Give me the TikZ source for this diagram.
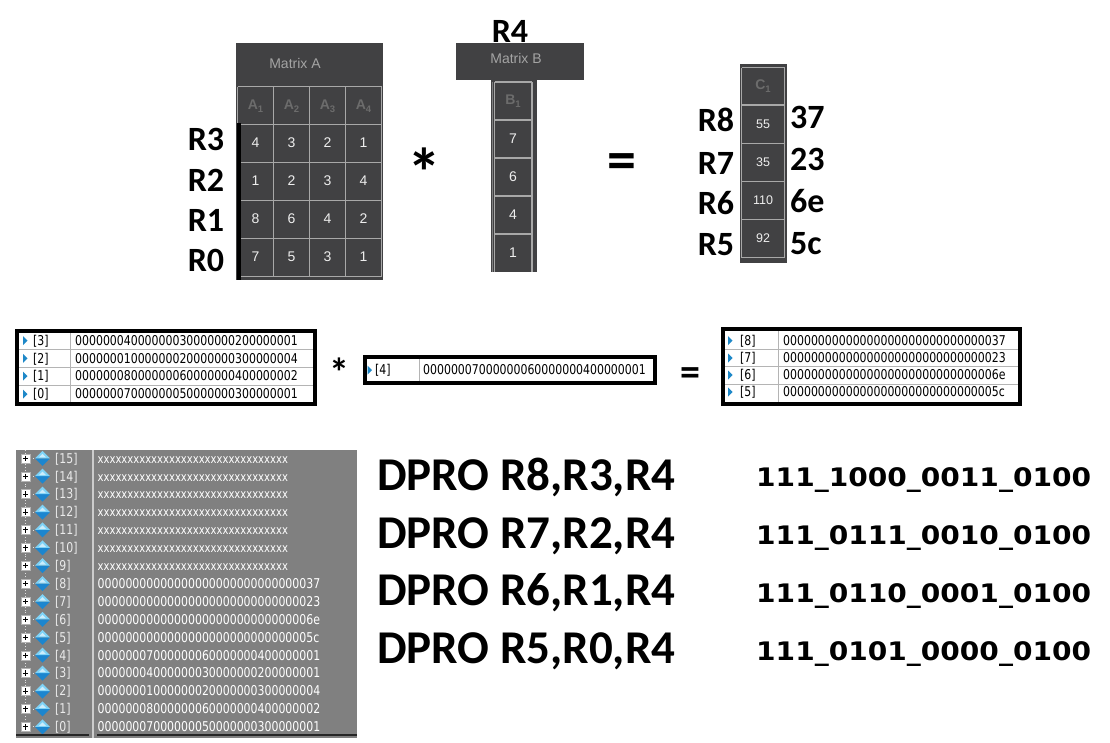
\documentclass[tikz,border=0pt]{standalone}
\usepackage{fontspec}
\setmainfont{Carlito}
\newfontfamily\arialf{Liberation Sans}
\newfontfamily\tahf[FakeStretch=0.81]{DejaVu Sans}
\newfontfamily\verdf[FakeStretch=1.1]{DejaVu Sans}
\definecolor{matbg}{HTML}{414143}
\definecolor{gridc}{HTML}{A8A8A8}
\definecolor{celltxt}{HTML}{EEEEEE}
\definecolor{headtxt}{HTML}{6C6C6C}
\definecolor{titletxt}{HTML}{A4A4A4}
\definecolor{panelbg}{HTML}{808080}
\definecolor{tricol}{HTML}{1E88C8}
\definecolor{rowline}{HTML}{B4B4B4}
\definecolor{dialight}{HTML}{7FD3F7}
\definecolor{diadark}{HTML}{1C86CF}
\begin{document}
\begin{tikzpicture}[x=1pt,y=-1pt,
  biglab/.style={font=\bfseries\fontsize{34}{34}\selectfont, inner sep=0pt, anchor=center},
  mcell/.style={font=\arialf\fontsize{14}{14}\selectfont, text=celltxt, inner sep=0pt},
  ccell/.style={font=\arialf\fontsize{12.5}{12.5}\selectfont, text=celltxt, inner sep=0pt},
  mhead/.style={font=\arialf\bfseries\fontsize{14}{14}\selectfont, text=headtxt, inner sep=0pt},
  mtitle/.style={font=\arialf\fontsize{14}{14}\selectfont, text=titletxt, inner sep=0pt},
  gridl/.style={draw=gridc, line width=1.2pt},
  hex/.style={font=\tahf\fontsize{13.5}{13.5}\selectfont, inner sep=0pt, anchor=base west},
  phex/.style={hex, text=white},
  pxx/.style={phex, font=\tahf\fontsize{12.4}{12.4}\selectfont},
  plab/.style={hex, text=white!92!black},
  instr/.style={font=\bfseries\fontsize{47}{47}\selectfont, inner sep=0pt, anchor=base west},
  bincode/.style={font=\verdf\bfseries\fontsize{25.5}{25.5}\selectfont, inner sep=0pt, anchor=base west},
  opsym/.style={font=\bfseries, inner sep=0pt},
  frameb/.style={draw=black, line width=4pt},
  rowsep/.style={draw=rowline, line width=0.8pt}
]
\useasboundingbox (0,0) rectangle (1110,742);

% ---------------- Matrix A ----------------
\fill[matbg] (236,43) rectangle (383,280);
\node[mtitle] (titleA) at (295,63) {Matrix A};
\foreach \x in {237.5,273.5,309.5,345.5,381.5} \draw[gridl] (\x,86.5) -- (\x,276.5);
\foreach \y in {86.5,124.3,162.3,200.3,238.3,276.3} \draw[gridl] (237.5,\y) -- (381.5,\y);
\foreach \c [count=\i] in {255.5,291.5,327.5,363.5}
  \node[mhead] (ah\i) at (\c,106) {A\raisebox{-3pt}{\fontsize{9.5}{9.5}\selectfont\i}};
\foreach \row/\yy in {{4,3,2,1}/143,{1,2,3,4}/181,{8,6,4,2}/219,{7,5,3,1}/257}{
  \foreach \v [count=\j] in \row {
    \pgfmathsetmacro{\xx}{219.5+36*\j}
    \node[mcell] (a\j-\yy) at (\xx,\yy) {\v};
  }
}
\draw[line width=4pt] (238.5,123) -- (238.5,280);
\node[biglab] (r3) at (206,139) {R3};
\node[biglab] (r2) at (206,180) {R2};
\node[biglab] (r1) at (206,220) {R1};
\node[biglab] (r0) at (206,260) {R0};

\node[opsym, font=\bfseries\fontsize{68}{68}\selectfont] (mul1) at (424.5,172) {*};

% ---------------- Matrix B ----------------
\fill[matbg] (456,43) rectangle (584,80);
\fill[matbg] (491,80) rectangle (537,272);
\node[mtitle] (titleB) at (516,58) {Matrix B};
\node[biglab] (r4) at (510,31) {R4};
\draw[draw=gridc!60!matbg, line width=0.8pt] (492,82) -- (492,272);
\foreach \x in {494.5,532} \draw[gridl] (\x,82) -- (\x,272);
\foreach \y in {82,120,158,196,234} \draw[gridl] (494.5,\y) -- (532,\y);
\node[mhead] (bh) at (513,101) {B\raisebox{-3pt}{\fontsize{9.5}{9.5}\selectfont 1}};
\foreach \v/\yy in {7/139,6/177,4/215,1/253}
  \node[mcell] (b\v) at (513,\yy) {\v};

\node[opsym, font=\bfseries\fontsize{58}{58}\selectfont] (eq1) at (621.5,167) {=};

% ---------------- Matrix C ----------------
\fill[matbg] (740,64) rectangle (787,263);
\foreach \x in {741.5,784.5} \draw[gridl] (\x,67.5) -- (\x,257.5);
\foreach \y in {67.5,105,143.3,181.7,219.7,257.5} \draw[gridl] (741.5,\y) -- (784.5,\y);
\node[mhead] (ch) at (763,86) {C\raisebox{-3pt}{\fontsize{9.5}{9.5}\selectfont 1}};
\foreach \v/\yy in {55/124,35/162,110/200,92/238}
  \node[ccell] (c\v) at (763,\yy) {\v};
\node[biglab] (r8) at (716,120) {R8};
\node[biglab] (r7) at (716,163) {R7};
\node[biglab] (r6) at (716,203) {R6};
\node[biglab] (r5) at (716,245) {R5};
\node[biglab, anchor=west] (h37) at (790,117) {37};
\node[biglab, anchor=west] (h23) at (790,159) {23};
\node[biglab, anchor=west] (h6e) at (790,201) {6e};
\node[biglab, anchor=west] (h5c) at (790,244) {5c};

% ---------------- middle register tables ----------------
% box 1
\fill[white] (17,331) rectangle (315,404);
\foreach \y in {349.3,367.3,385.3} \draw[rowsep] (17,\y) -- (315,\y);
\draw[rowsep] (70,331) -- (70,404);
\foreach \lab/\val/\yy in {3/00000004000000030000000200000001/340.7,2/00000001000000020000000300000004/358.3,1/00000008000000060000000400000002/376,0/00000007000000050000000300000001/394}{
  \fill[tricol] (23,\yy-4.5) -- (27.5,\yy) -- (23,\yy+4.5) -- cycle;
  \node[hex] (m1l\lab) at (33,\yy+4.8) {[\lab]};
  \node[hex] (m1v\lab) at (75,\yy+4.8) {\val};
}
\draw[frameb] (17,331) rectangle (315,404);

\node[opsym, font=\bfseries\fontsize{40}{40}\selectfont] (mul2) at (339,372) {*};

% box 2
\fill[white] (365,357) rectangle (655,383);
\draw[rowsep] (419,358) -- (419,382);
\fill[tricol] (367.5,365.5) -- (372,370) -- (367.5,374.5) -- cycle;
\node[hex] (m2l) at (375,374.8) {[4]};
\node[hex] (m2v) at (423,374.8) {00000007000000060000000400000001};
\draw[frameb] (365,357) rectangle (655,383);

\node[opsym, font=\bfseries\fontsize{40}{40}\selectfont] (eq2) at (690,377) {=};

% box 3
\fill[white] (723,329) rectangle (1020,404);
\foreach \y in {349.3,366.7,384} \draw[rowsep] (723,\y) -- (1020,\y);
\draw[rowsep] (778.3,329) -- (778.3,404);
\foreach \lab/\val/\yy in {8/00000000000000000000000000000037/340.7,7/00000000000000000000000000000023/358,6/0000000000000000000000000000006e/375,5/0000000000000000000000000000005c/392}{
  \fill[tricol] (728,\yy-4.5) -- (732.5,\yy) -- (728,\yy+4.5) -- cycle;
  \node[hex] (m3l\lab) at (740,\yy+4.8) {[\lab]};
  \node[hex] (m3v\lab) at (783,\yy+4.8) {\val};
}
\draw[frameb] (723,329) rectangle (1020,404);

% ---------------- register file panel ----------------
\fill[panelbg] (16,450) rectangle (357,738);
\draw[white!80!black, line width=2pt] (93,450) -- (93,738);
\draw[white!75!panelbg, dotted, line width=0.8pt] (25.5,450) -- (25.5,727);
\foreach \lab/\val/\sty [count=\i from 0] in {
  15/xxxxxxxxxxxxxxxxxxxxxxxxxxxxxxxx/pxx,
  14/xxxxxxxxxxxxxxxxxxxxxxxxxxxxxxxx/pxx,
  13/xxxxxxxxxxxxxxxxxxxxxxxxxxxxxxxx/pxx,
  12/xxxxxxxxxxxxxxxxxxxxxxxxxxxxxxxx/pxx,
  11/xxxxxxxxxxxxxxxxxxxxxxxxxxxxxxxx/pxx,
  10/xxxxxxxxxxxxxxxxxxxxxxxxxxxxxxxx/pxx,
  9/xxxxxxxxxxxxxxxxxxxxxxxxxxxxxxxx/pxx,
  8/00000000000000000000000000000037/phex,
  7/00000000000000000000000000000023/phex,
  6/0000000000000000000000000000006e/phex,
  5/0000000000000000000000000000005c/phex,
  4/00000007000000060000000400000001/phex,
  3/00000004000000030000000200000001/phex,
  2/00000001000000020000000300000004/phex,
  1/00000008000000060000000400000002/phex,
  0/00000007000000050000000300000001/phex}{
  \pgfmathsetmacro{\yy}{458.3+17.9*\i}
  \draw[white!75!panelbg, dotted, line width=0.8pt] (30,\yy) -- (35,\yy);
  \draw[fill=white, draw=gray!60] (21,\yy-4.5) rectangle (30,\yy+4.5);
  \draw[line width=1pt] (22.8,\yy) -- (28.2,\yy) (25.5,\yy-2.7) -- (25.5,\yy+2.7);
  \fill[diadark] (35,\yy) -- (42.5,\yy+7.5) -- (50,\yy) -- cycle;
  \fill[dialight] (35,\yy) -- (42.5,\yy-7.5) -- (50,\yy) -- cycle;
  \fill[white!60!dialight] (39,\yy-1) -- (42.5,\yy-4.5) -- (46,\yy-1) -- cycle;
  \node[plab] (pl\lab) at (55,\yy+4.8) {[\lab]};
  \node[\sty] (pv\lab) at (97.5,\yy+4.8) {\val};
}
\draw[black!85, line width=1.5pt] (16,735) -- (89,735) (97,735) -- (357,735);

% ---------------- instructions ----------------
\node[instr] (i1) at (377,490) {DPRO R8,R3,R4};
\node[instr] (i2) at (377,548) {DPRO R7,R2,R4};
\node[instr] (i3) at (377,605) {DPRO R6,R1,R4};
\node[instr] (i4) at (377,663) {DPRO R5,R0,R4};
\node[bincode] (b1) at (756,486) {111\_1000\_0011\_0100};
\node[bincode] (b2) at (756,544) {111\_0111\_0010\_0100};
\node[bincode] (b3) at (756,602) {111\_0110\_0001\_0100};
\node[bincode] (b4) at (756,660) {111\_0101\_0000\_0100};
\end{tikzpicture}
\end{document}
